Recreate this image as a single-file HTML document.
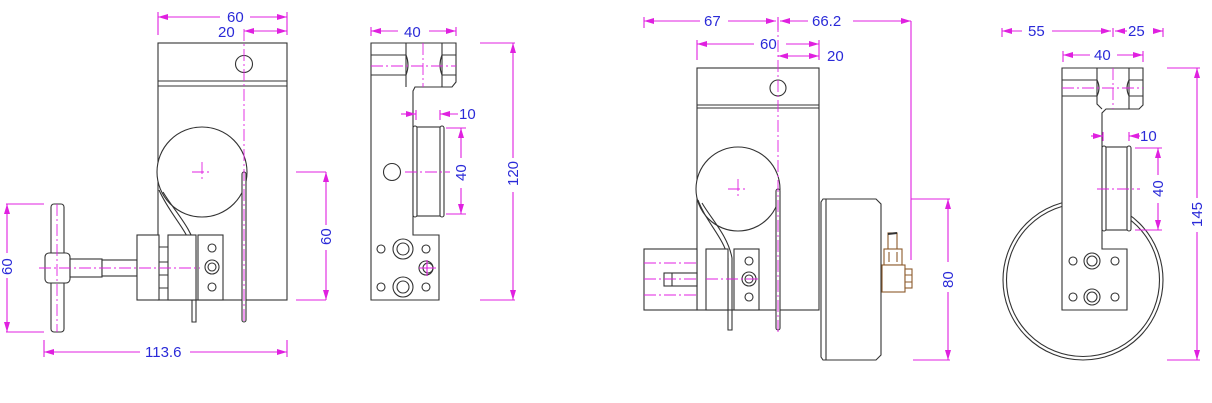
<!DOCTYPE html>
<html><head><meta charset="utf-8"><style>
html,body{margin:0;padding:0;background:#fff;width:1212px;height:403px;overflow:hidden}
svg{display:block}
text{font-family:"Liberation Sans",sans-serif;font-size:15px;fill:#2a2ad8}
.k{fill:none;stroke:#333;stroke-width:1.1}
.kw{fill:#fff;stroke:#333;stroke-width:1.1}
.m{fill:none;stroke:#e020e0;stroke-width:1.1}
.c{fill:none;stroke:#e020e0;stroke-width:0.9;stroke-dasharray:12 3 2 3}
.b{fill:#fff;stroke:#8b5a2b;stroke-width:1.1}
</style></head><body>
<svg width="1212" height="403" viewBox="0 0 1212 403">
<defs>
<marker id="a" viewBox="0 0 10 6" refX="10" refY="3" markerWidth="10" markerHeight="6" orient="auto-start-reverse" markerUnits="userSpaceOnUse"><path d="M0,0L10,3L0,6z" fill="#e020e0"/></marker>
</defs>

<!-- ===== VIEW 1 (front) ===== -->
<rect class="k" x="158" y="43" width="129" height="257"/>
<line class="k" x1="158" y1="81" x2="287" y2="81"/>
<line class="k" x1="158" y1="86" x2="287" y2="86"/>
<circle class="k" cx="244" cy="64" r="8.5"/>
<circle class="kw" cx="202" cy="172" r="45"/>
<path class="c" d="M192,172H212M202,162V182"/>
<rect class="kw" x="242" y="172" width="4" height="150" rx="2"/>
<line class="c" x1="244" y1="29" x2="244" y2="323"/>
<path class="k" d="M159,190 C170,215 188,230 192,250 L192,322 L196,322 L196,250 C192,228 175,212 163,192"/>
<rect class="kw" x="51" y="204" width="13" height="128" rx="3"/>
<rect class="kw" x="45" y="253" width="25" height="30" rx="4"/>
<rect class="kw" x="70" y="259" width="32" height="18"/>
<rect class="kw" x="102" y="260" width="35" height="16"/>
<rect class="kw" x="137" y="235" width="22" height="65"/>
<path class="k" d="M159,247H168M159,262H168M159,275H168M159,288H168"/>
<rect class="kw" x="168" y="235" width="28" height="65"/>
<rect class="kw" x="198" y="235" width="25" height="65"/>
<circle class="k" cx="212" cy="248" r="4"/>
<circle class="k" cx="212" cy="267" r="7"/><circle class="k" cx="212" cy="267" r="4"/>
<circle class="k" cx="212" cy="287" r="4"/>
<line class="c" x1="39" y1="268" x2="200" y2="268"/>
<line class="c" x1="57" y1="204" x2="57" y2="332"/>
<!-- dims -->
<path class="m" d="M158,12V35M287,12V35"/>
<line class="m" x1="158" y1="17" x2="220" y2="17" marker-start="url(#a)"/>
<line class="m" x1="250" y1="17" x2="287" y2="17" marker-end="url(#a)"/>
<text x="227" y="22">60</text>
<line class="m" x1="244" y1="31" x2="287" y2="31" marker-start="url(#a)" marker-end="url(#a)"/>
<text x="218" y="37">20</text>
<path class="m" d="M296,172H326M296,300H326"/>
<line class="m" x1="326" y1="172" x2="326" y2="225" marker-start="url(#a)"/>
<line class="m" x1="326" y1="250" x2="326" y2="300" marker-end="url(#a)"/>
<text transform="translate(331,245) rotate(-90)">60</text>
<path class="m" d="M6,204H44M6,332H44"/>
<line class="m" x1="7" y1="204" x2="7" y2="253" marker-start="url(#a)"/>
<line class="m" x1="7" y1="278" x2="7" y2="332" marker-end="url(#a)"/>
<text transform="translate(12,275) rotate(-90)">60</text>
<path class="m" d="M44,340V357M287,340V357"/>
<line class="m" x1="44" y1="352" x2="140" y2="352" marker-start="url(#a)"/>
<line class="m" x1="190" y1="352" x2="287" y2="352" marker-end="url(#a)"/>
<text x="145" y="357">113.6</text>

<!-- ===== VIEW 2 (side) ===== -->
<path class="k" d="M371,43H456V82L452,87H415L413,91V235H439V300H371Z"/>
<path class="k" d="M371,55H406M371,75H406M442,55H456M442,75H456"/>
<path class="k" d="M406,43V87M442,43V87"/>
<path class="k" d="M406,55Q410,65 406,75M442,55Q438,65 442,75"/>
<line class="c" x1="371" y1="66" x2="456" y2="66"/>
<line class="c" x1="423" y1="43" x2="423" y2="87"/>
<circle class="k" cx="392" cy="172" r="8.5"/>
<rect class="kw" x="414" y="127" width="29" height="89"/>
<rect class="kw" x="413" y="126" width="4" height="91" rx="2"/>
<rect class="kw" x="440" y="126" width="4" height="91" rx="2"/>
<line class="c" x1="405" y1="172" x2="450" y2="172"/>
<circle class="k" cx="381" cy="249" r="4"/>
<circle class="k" cx="403" cy="249" r="10"/><circle class="k" cx="403" cy="249" r="6"/>
<circle class="k" cx="426" cy="249" r="4"/>
<circle class="k" cx="381" cy="287" r="4"/>
<circle class="k" cx="403" cy="287" r="10"/><circle class="k" cx="403" cy="287" r="6"/>
<circle class="k" cx="426" cy="287" r="4"/>
<circle class="k" cx="426" cy="268" r="7"/><circle class="k" cx="428" cy="268" r="5"/>
<path class="m" d="M419,268H436M427,260V276"/>
<!-- dims -->
<path class="m" d="M371,27V36M456,27V36"/>
<line class="m" x1="371" y1="31" x2="398" y2="31" marker-start="url(#a)"/>
<line class="m" x1="429" y1="31" x2="456" y2="31" marker-end="url(#a)"/>
<text x="404" y="37">40</text>
<line class="m" x1="401" y1="114" x2="416" y2="114" marker-end="url(#a)"/>
<line class="m" x1="440" y1="114" x2="458" y2="114" marker-start="url(#a)"/>
<path class="m" d="M416,110V120M440,110V120"/>
<text x="459" y="119">10</text>
<path class="m" d="M446,128H466M446,214H466"/>
<line class="m" x1="461" y1="128" x2="461" y2="158" marker-start="url(#a)"/>
<line class="m" x1="461" y1="188" x2="461" y2="214" marker-end="url(#a)"/>
<text transform="translate(466,181) rotate(-90)">40</text>
<path class="m" d="M480,43H515M480,300H515"/>
<line class="m" x1="513" y1="43" x2="513" y2="158" marker-start="url(#a)"/>
<line class="m" x1="513" y1="192" x2="513" y2="300" marker-end="url(#a)"/>
<text transform="translate(518,186) rotate(-90)">120</text>

<!-- ===== VIEW 3 (front with wheel) ===== -->
<rect class="k" x="697" y="68" width="122" height="242"/>
<line class="k" x1="697" y1="105" x2="819" y2="105"/>
<line class="k" x1="697" y1="108" x2="819" y2="108"/>
<circle class="k" cx="778" cy="88" r="8"/>
<circle class="kw" cx="738" cy="189" r="42"/>
<path class="c" d="M728,189H748M738,179V199"/>
<rect class="kw" x="776" y="189" width="4" height="141" rx="2"/>
<line class="c" x1="778" y1="20" x2="778" y2="332"/>
<path class="k" d="M698,200 C706,222 724,238 728,258 L728,330 L732,330 L732,258 C728,236 712,220 702,203"/>
<rect class="kw" x="644" y="249" width="53" height="61"/>
<rect class="kw" x="664" y="273" width="33" height="13"/>
<line class="k" x1="672" y1="273" x2="672" y2="286"/>
<path class="c" d="M644,263H697M644,279H697M644,295H697"/>
<rect class="kw" x="706" y="249" width="22" height="61"/>
<rect class="kw" x="734" y="249" width="25" height="61"/>
<circle class="k" cx="749" cy="261" r="4"/>
<circle class="k" cx="749" cy="279" r="7"/><circle class="k" cx="749" cy="279" r="4"/>
<circle class="k" cx="749" cy="297" r="4"/>
<line class="c" x1="706" y1="279" x2="760" y2="279"/>
<path class="kw" d="M823,199H876L881,204V355L876,360H823L821,357V202Z"/>
<line class="k" x1="826" y1="199" x2="826" y2="360"/>
<!-- fitting -->
<rect class="b" x="888" y="233" width="9" height="17"/>
<path d="M888,234L897,233" stroke="#333" stroke-width="2"/>
<rect class="b" x="884" y="249" width="18" height="16"/>
<path class="b" d="M889,252V262M897,252V262"/>
<rect class="b" x="882" y="265" width="23" height="27"/>
<rect class="b" x="905" y="269" width="7" height="19"/>
<path class="b" d="M905,275H912M905,282H912"/>
<!-- dims -->
<path class="m" d="M644,17V28M778,17V30"/>
<line class="m" x1="644" y1="21" x2="700" y2="21" marker-start="url(#a)"/>
<line class="m" x1="728" y1="21" x2="776" y2="21" marker-end="url(#a)"/>
<text x="704" y="26">67</text>
<line class="m" x1="780" y1="21" x2="808" y2="21" marker-start="url(#a)"/>
<line class="m" x1="853" y1="21" x2="911" y2="21" marker-end="url(#a)"/>
<text x="812" y="26">66.2</text>
<line class="m" x1="911" y1="21" x2="911" y2="260"/>
<path class="m" d="M697,40V60M819,40V60"/>
<line class="m" x1="697" y1="44" x2="754" y2="44" marker-start="url(#a)"/>
<line class="m" x1="786" y1="44" x2="819" y2="44" marker-end="url(#a)"/>
<text x="760" y="49">60</text>
<line class="m" x1="778" y1="56" x2="819" y2="56" marker-start="url(#a)" marker-end="url(#a)"/>
<text x="827" y="61">20</text>
<path class="m" d="M911,199H950M913,360H950"/>
<line class="m" x1="948" y1="199" x2="948" y2="262" marker-start="url(#a)"/>
<line class="m" x1="948" y1="292" x2="948" y2="360" marker-end="url(#a)"/>
<text transform="translate(953,288) rotate(-90)">80</text>

<!-- ===== VIEW 4 (side with wheel) ===== -->
<circle class="k" cx="1083" cy="280" r="80"/>
<circle class="k" cx="1083" cy="280" r="76.5"/>
<path class="kw" d="M1062,68H1143V105L1139,109H1106L1102,113V249H1127V310H1062Z"/>
<path class="k" d="M1062,80H1097M1062,96H1097M1129,80H1143M1129,96H1143"/>
<path class="k" d="M1097,68V104L1102,109M1129,68V109"/>
<path class="k" d="M1097,80Q1101,88 1097,96M1129,80Q1125,88 1129,96"/>
<line class="c" x1="1062" y1="88" x2="1143" y2="88"/>
<line class="c" x1="1113" y1="68" x2="1113" y2="109"/>
<rect class="kw" x="1103" y="147" width="27" height="83"/>
<rect class="kw" x="1102" y="146" width="4" height="85" rx="2"/>
<rect class="kw" x="1127" y="146" width="4" height="85" rx="2"/>
<line class="c" x1="1097" y1="189" x2="1140" y2="189"/>
<circle class="k" cx="1073" cy="261" r="4"/>
<circle class="k" cx="1092" cy="261" r="8"/><circle class="k" cx="1092" cy="261" r="5"/>
<circle class="k" cx="1115" cy="261" r="4"/>
<circle class="k" cx="1073" cy="297" r="4"/>
<circle class="k" cx="1092" cy="297" r="8"/><circle class="k" cx="1092" cy="297" r="5"/>
<circle class="k" cx="1115" cy="297" r="4"/>
<!-- dims -->
<path class="m" d="M1002,28V37M1113,28V37M1163,28V37"/>
<line class="m" x1="1002" y1="31" x2="1022" y2="31" marker-start="url(#a)"/>
<line class="m" x1="1052" y1="31" x2="1111" y2="31" marker-end="url(#a)"/>
<text x="1028" y="36">55</text>
<line class="m" x1="1115" y1="31" x2="1127" y2="31" marker-start="url(#a)"/>
<line class="m" x1="1155" y1="31" x2="1163" y2="31" marker-end="url(#a)"/>
<text x="1128" y="36">25</text>
<path class="m" d="M1063,51V62M1143,51V62"/>
<line class="m" x1="1063" y1="55" x2="1090" y2="55" marker-start="url(#a)"/>
<line class="m" x1="1117" y1="55" x2="1143" y2="55" marker-end="url(#a)"/>
<text x="1094" y="60">40</text>
<line class="m" x1="1091" y1="136" x2="1103" y2="136" marker-end="url(#a)"/>
<line class="m" x1="1129" y1="136" x2="1140" y2="136" marker-start="url(#a)"/>
<path class="m" d="M1103,132V141M1129,132V141"/>
<text x="1140" y="141">10</text>
<path class="m" d="M1135,148H1162M1135,230H1162"/>
<line class="m" x1="1158" y1="148" x2="1158" y2="175" marker-start="url(#a)"/>
<line class="m" x1="1158" y1="203" x2="1158" y2="230" marker-end="url(#a)"/>
<text transform="translate(1163,197) rotate(-90)">40</text>
<path class="m" d="M1167,68H1200M1167,360H1200"/>
<line class="m" x1="1197" y1="68" x2="1197" y2="198" marker-start="url(#a)"/>
<line class="m" x1="1197" y1="232" x2="1197" y2="360" marker-end="url(#a)"/>
<text transform="translate(1202,227) rotate(-90)">145</text>
</svg>
</body></html>
